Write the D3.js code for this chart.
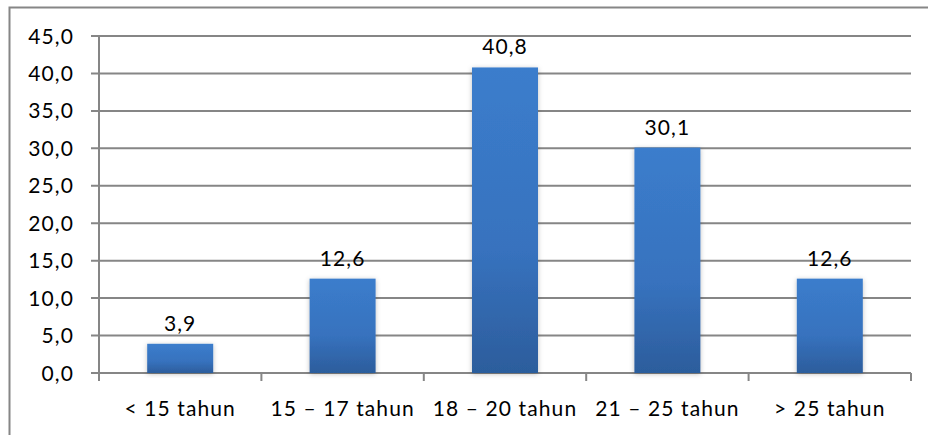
<!DOCTYPE html>
<html>
<head>
<meta charset="utf-8">
<script src="https://cdn.jsdelivr.net/npm/d3@7"></script>
<style>
  body { margin: 0; background: #fff; }
  svg { display: block; font-family: Lato, "Open Sans", sans-serif; }
</style>
</head>
<body>
<svg id="chart" width="928" height="435"></svg>
<script>
const categories = ['< 15 tahun', '15 – 17 tahun', '18 – 20 tahun', '21 – 25 tahun', '> 25 tahun']
const values = [3.9, 12.6, 40.8, 30.1, 12.6]
const yTicks = [0, 5, 10, 15, 20, 25, 30, 35, 40, 45]

const svg = d3.select('#chart')
const plotLeft = 99, plotRight = 911, plotTop = 36, plotBottom = 373
const fmt = v => d3.format('.1f')(v).replace('.', ',')
const fontSize = 21, spacing = 1.1

// outer frame (right and bottom edges fall off the picture)
svg.append('rect')
  .attr('x', 9.5).attr('y', 7.5)
  .attr('width', 930).attr('height', 440)
  .attr('fill', 'none')
  .attr('stroke', '#868686')
  .attr('stroke-width', 2)

const defs = svg.append('defs')
const grad = defs.append('linearGradient')
  .attr('id', 'barGrad')
  .attr('x1', 0).attr('y1', 0).attr('x2', 0).attr('y2', 1)
grad.append('stop').attr('offset', '0%').attr('stop-color', '#3b7dcc')
grad.append('stop').attr('offset', '60%').attr('stop-color', '#3772be')
grad.append('stop').attr('offset', '100%').attr('stop-color', '#2c5d9c')

const shadow = defs.append('filter').attr('id', 'shadow')
  .attr('x', '-20%').attr('y', '-10%').attr('width', '140%').attr('height', '125%')
shadow.append('feDropShadow')
  .attr('dx', 0).attr('dy', 1).attr('stdDeviation', 2.5)
  .attr('flood-color', '#000').attr('flood-opacity', 0.25)

const x = d3.scaleBand().domain(categories).range([plotLeft, plotRight])
const y = d3.scaleLinear().domain([0, 45]).range([plotBottom, plotTop])

// gridlines
svg.append('g')
  .selectAll('line')
  .data(yTicks)
  .join('line')
  .attr('x1', plotLeft - 8).attr('x2', plotRight)
  .attr('y1', d => y(d)).attr('y2', d => y(d))
  .attr('stroke', '#868686')
  .attr('stroke-width', 2)

// y axis line
svg.append('line')
  .attr('x1', plotLeft).attr('x2', plotLeft)
  .attr('y1', plotTop).attr('y2', plotBottom)
  .attr('stroke', '#868686').attr('stroke-width', 2)

// x category ticks
const bounds = categories.map(c => x(c)).concat([plotRight])
svg.append('g')
  .selectAll('line')
  .data(bounds)
  .join('line')
  .attr('x1', d => d).attr('x2', d => d)
  .attr('y1', plotBottom).attr('y2', plotBottom + 8)
  .attr('stroke', '#868686').attr('stroke-width', 2)

// y labels
svg.append('g')
  .selectAll('text')
  .data(yTicks)
  .join('text')
  .attr('x', 74)
  .attr('y', d => y(d))
  .attr('dy', '0.36em')
  .attr('text-anchor', 'end')
  .attr('font-size', fontSize)
  .attr('letter-spacing', spacing)
  .attr('fill', '#000')
  .text(fmt)

// bars
const barW = 66
svg.append('g')
  .selectAll('rect')
  .data(values)
  .join('rect')
  .attr('x', (d, i) => x(categories[i]) + x.bandwidth() / 2 - barW / 2)
  .attr('y', d => y(d))
  .attr('width', barW)
  .attr('height', d => plotBottom - y(d))
  .attr('fill', 'url(#barGrad)')
  .attr('filter', 'url(#shadow)')

// value labels
svg.append('g')
  .selectAll('text')
  .data(values)
  .join('text')
  .attr('x', (d, i) => x(categories[i]) + x.bandwidth() / 2)
  .attr('y', d => y(d) - 13)
  .attr('text-anchor', 'middle')
  .attr('font-size', fontSize)
  .attr('letter-spacing', spacing)
  .attr('fill', '#000')
  .text(fmt)

// category labels
svg.append('g')
  .selectAll('text')
  .data(categories)
  .join('text')
  .attr('x', d => x(d) + x.bandwidth() / 2)
  .attr('y', 416)
  .attr('text-anchor', 'middle')
  .attr('font-size', fontSize)
  .attr('letter-spacing', spacing)
  .attr('fill', '#000')
  .text(d => d)
</script>
</body>
</html>
